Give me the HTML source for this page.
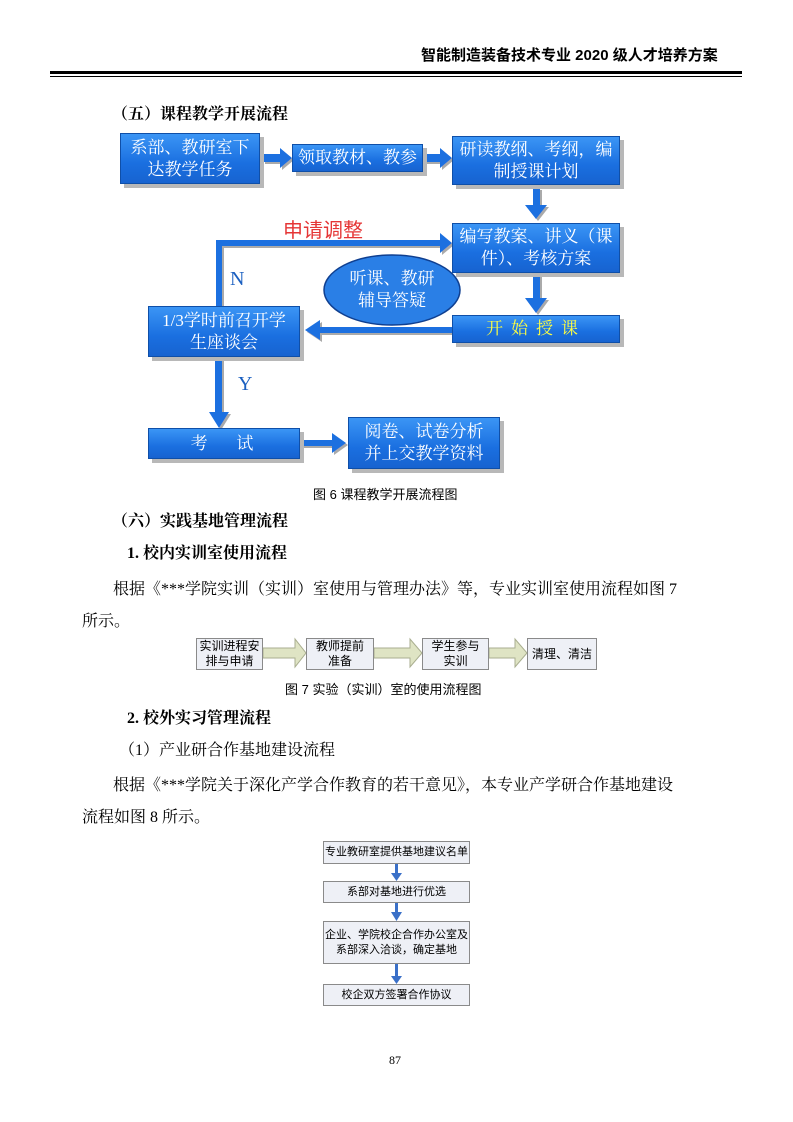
<!DOCTYPE html>
<html><head><meta charset="utf-8"><style>
body{margin:0;width:793px;height:1122px;position:relative;background:#fff;overflow:hidden;font-family:"Liberation Serif","Noto Serif CJK SC",serif;color:#000}
.a{position:absolute;white-space:nowrap}
.t{font-size:16px;line-height:16px}
.b{font-weight:bold}
.bx{position:absolute;box-sizing:border-box;background:linear-gradient(#3b95f5,#1a6fe0 60%,#1763d0);border:1px solid #0f4fa8;box-shadow:4px 4px 0 #b8b8b8;color:#fff;font-family:"Liberation Serif","Noto Serif CJK SC",serif;font-size:17px;line-height:22px;text-align:center;display:flex;align-items:center;justify-content:center}
.g{position:absolute;box-sizing:border-box;background:#eef0f6;border:1px solid #8a8a8a;font-size:12px;line-height:15px;text-align:center;display:flex;align-items:center;justify-content:center;font-family:"Liberation Sans","Noto Sans CJK SC",sans-serif}
</style></head><body>
<div class="a b" style="left:421px;top:44px;font-size:15px;font-family:'Liberation Sans','Noto Sans CJK SC',sans-serif">智能制造装备技术专业 2020 级人才培养方案</div>
<div class="a" style="left:50px;top:71px;width:692px;height:3px;background:#000"></div>
<div class="a" style="left:50px;top:76px;width:692px;height:1px;background:#000"></div>

<div class="a t b" style="left:112px;top:107px">（五）课程教学开展流程</div>

<svg class="a" style="left:0;top:0" width="793" height="520">
<defs><filter id="s"><feDropShadow dx="2" dy="2" stdDeviation="0" flood-color="#aaa"/></filter></defs>
<g fill="#1a6fe0" filter="url(#s)">
<polygon points="263,154 280,154 280,148 292,158 280,168 280,162 263,162"/>
<polygon points="425,154 440,154 440,148 452,158 440,168 440,162 425,162"/>
<polygon points="533,188 540,188 540,205 547,205 536,219 525,205 533,205"/>
<polygon points="533,275 540,275 540,298 547,298 536,313 525,298 533,298"/>
<polygon points="452,327 320,327 320,320 305,330 320,340 320,333 452,333"/>
<polygon points="215,357 222,357 222,412 229,412 219,428 209,412 215,412"/>
<polygon points="300,440 332,440 332,433 346,443 332,453 332,446 300,446"/>
<polygon points="216,306 216,240 440,240 440,233 452,243 440,253 440,246 222,246 222,306"/>
</g>
<ellipse cx="392" cy="290" rx="68" ry="35" fill="#2a7fe6" stroke="#0f3f90" stroke-width="1.5"/>
</svg>
<div class="a" style="left:324px;top:268px;width:136px;text-align:center;color:#fff;font-size:17px;line-height:22px;font-family:'Liberation Serif','Noto Serif CJK SC',serif">听课、教研<br>辅导答疑</div>

<div class="bx" style="left:120px;top:133px;width:140px;height:51px">系部、教研室下<br>达教学任务</div>
<div class="bx" style="left:292px;top:144px;width:131px;height:28px">领取教材、教参</div>
<div class="bx" style="left:452px;top:136px;width:168px;height:49px">研读教纲、考纲，编<br>制授课计划</div>
<div class="bx" style="left:452px;top:223px;width:168px;height:50px">编写教案、讲义（课<br>件）、考核方案</div>
<div class="bx" style="left:452px;top:315px;width:168px;height:28px;color:#ffff40;letter-spacing:8px">开始授课</div>
<div class="bx" style="left:148px;top:306px;width:152px;height:51px">1/3学时前召开学<br>生座谈会</div>
<div class="bx" style="left:148px;top:428px;width:152px;height:31px;letter-spacing:4px">考&nbsp;&nbsp;&nbsp;试</div>
<div class="bx" style="left:348px;top:417px;width:152px;height:52px">阅卷、试卷分析<br>并上交教学资料</div>
<div class="a" style="left:283px;top:214px;color:#e53535;font-size:20px;font-family:'Liberation Sans','Noto Sans CJK SC',sans-serif">申请调整</div>
<div class="a" style="left:230px;top:268px;color:#1a5fc0;font-size:20px">N</div>
<div class="a" style="left:238px;top:373px;color:#1a5fc0;font-size:20px">Y</div>

<div class="a" style="left:313px;top:484px;font-size:13px;font-family:'Liberation Sans','Noto Sans CJK SC',sans-serif">图 6 课程教学开展流程图</div>
<div class="a t b" style="left:112px;top:514px">（六）实践基地管理流程</div>
<div class="a t b" style="left:127px;top:546px">1. 校内实训室使用流程</div>
<div class="a t" style="left:113px;top:582px">根据《***学院实训（实训）室使用与管理办法》等，专业实训室使用流程如图 7</div>
<div class="a t" style="left:82px;top:614px">所示。</div>

<svg class="a" style="left:0;top:630px" width="793" height="45">
<g fill="#dfe4c4" stroke="#a9ae90">
<polygon points="263,18 295,18 295,9 306,23 295,37 295,28 263,28"/>
<polygon points="374,18 410,18 410,9 422,23 410,37 410,28 374,28"/>
<polygon points="489,18 515,18 515,9 527,23 515,37 515,28 489,28"/>
</g></svg>
<div class="g" style="left:196px;top:638px;width:67px;height:32px">实训进程安<br>排与申请</div>
<div class="g" style="left:306px;top:638px;width:68px;height:32px">教师提前<br>准备</div>
<div class="g" style="left:422px;top:638px;width:67px;height:32px">学生参与<br>实训</div>
<div class="g" style="left:527px;top:638px;width:70px;height:32px">清理、清洁</div>
<div class="a" style="left:285px;top:679px;font-size:13px;font-family:'Liberation Sans','Noto Sans CJK SC',sans-serif">图 7 实验（实训）室的使用流程图</div>

<div class="a t b" style="left:127px;top:711px">2. 校外实习管理流程</div>
<div class="a t" style="left:119px;top:743px">（1）产业研合作基地建设流程</div>
<div class="a t" style="left:113px;top:778px">根据《***学院关于深化产学合作教育的若干意见》，本专业产学研合作基地建设</div>
<div class="a t" style="left:82px;top:810px">流程如图 8 所示。</div>

<svg class="a" style="left:0;top:830px" width="793" height="190">
<g fill="#3a70c8">
<rect x="395" y="34" width="3" height="9"/><polygon points="391,43 402,43 396.5,51"/>
<rect x="395" y="73" width="3" height="9"/><polygon points="391,82 402,82 396.5,91"/>
<rect x="395" y="134" width="3" height="12"/><polygon points="391,146 402,146 396.5,154"/>
</g></svg>
<div class="g" style="left:323px;top:841px;width:147px;height:23px;font-size:11px">专业教研室提供基地建议名单</div>
<div class="g" style="left:323px;top:881px;width:147px;height:22px;font-size:11px">系部对基地进行优选</div>
<div class="g" style="left:323px;top:921px;width:147px;height:43px;font-size:11px">企业、学院校企合作办公室及<br>系部深入洽谈，确定基地</div>
<div class="g" style="left:323px;top:984px;width:147px;height:22px;font-size:11px">校企双方签署合作协议</div>

<div class="a" style="left:389px;top:1053px;font-size:12px">87</div>
</body></html>
